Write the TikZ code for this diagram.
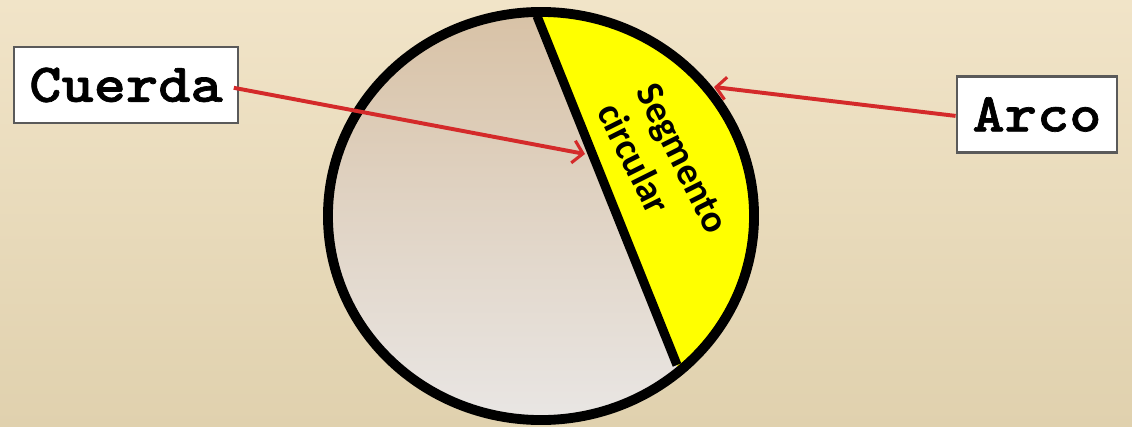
\documentclass[tikz,border=0pt]{standalone}
\usepackage{fontspec}
\newfontfamily\monob{lmmonolt10-bold.otf}[FakeStretch=1.12,FakeBold=1.2]
\newfontfamily\segf{Carlito}
\usetikzlibrary{arrows.meta}
\definecolor{bgtop}{HTML}{F1E4C8}
\definecolor{bgbot}{HTML}{E0D1AE}
\definecolor{intop}{HTML}{D8C2A6}
\definecolor{inbot}{HTML}{E9E6E4}
\definecolor{segyel}{HTML}{FFFF00}
\definecolor{arrred}{HTML}{D42A2A}
\definecolor{boxline}{HTML}{5A5A5A}
\tikzset{
  labelbox/.style={draw=boxline, line width=2pt, fill=white, inner sep=0pt,
    minimum height=1.9cm, font=\monob\fontsize{39}{40}\selectfont},
  pointer/.style={draw=arrred, line width=2.8pt,
    -{Straight Barb[length=7pt,width=16pt,line width=2.2pt]}},
  rim/.style={draw=black, line width=7pt},
}
\begin{document}
\begin{tikzpicture}[x=0.025cm,y=-0.025cm]
\useasboundingbox (0,0) rectangle (1132,427);
\shade[top color=bgtop, bottom color=bgbot] (0,0) rectangle (1132,427);
% circle interior
\shade[top color=intop, bottom color=inbot] (541,216) ellipse [x radius=5.325cm, y radius=5.1cm];
% yellow segment
\begin{scope}
  \clip (509,-54) -- (705,435) -- (900,435) -- (900,-54) -- cycle;
  \fill[segyel] (541,216) ellipse [x radius=5.325cm, y radius=5.1cm];
\end{scope}
% chord
\coordinate (ctop) at (537,16);
\coordinate (cbot) at (677,365);
\draw[rim, line width=6.5pt] (ctop) -- (cbot);
% outline
\draw[rim] (541,216) ellipse [x radius=5.325cm, y radius=5.1cm];
% segment label
\node[font=\segf\bfseries\fontsize{27.5}{31}\selectfont, align=left, rotate=-63.4, inner sep=0pt] (seg) at (663,168) {Segmento\\circular};
% label boxes
\node[labelbox, minimum width=5.6cm] (cuerda) at (126,85) {Cuerda};
\node[labelbox, minimum width=4cm] (arco) at (1037,114.5) {Arco};
% pointers
\coordinate (chordpt) at (585,154);
\coordinate (arcpt) at (714,87);
\draw[pointer] ([xshift=-4pt,yshift=-2pt]cuerda.east) -- (chordpt);
\draw[pointer] ([yshift=-1pt]arco.west) -- (arcpt);
\end{tikzpicture}
\end{document}
